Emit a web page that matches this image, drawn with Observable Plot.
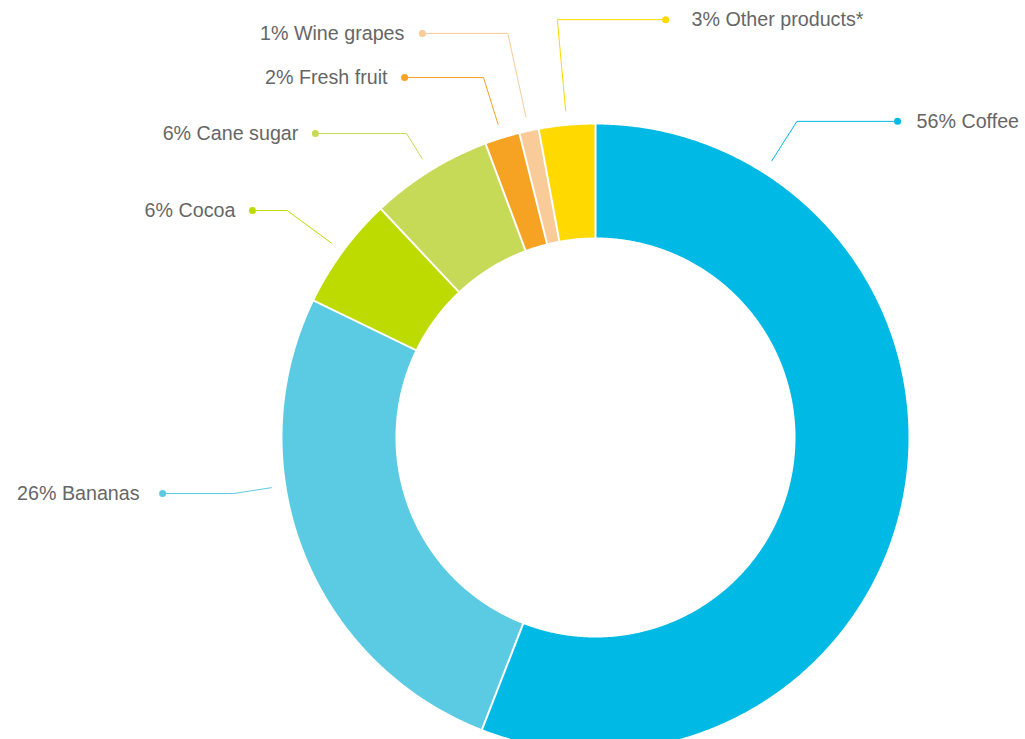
<!DOCTYPE html>
<html><head><meta charset="utf-8">
<script src="https://cdn.jsdelivr.net/npm/d3@7"></script>
<script src="https://cdn.jsdelivr.net/npm/@observablehq/plot@0.6"></script>
<style>body{margin:0;background:#fff}</style>
</head><body><div id="chart"></div>
<script>
// ---- data ----
const categories = ["Coffee", "Bananas", "Cocoa", "Cane sugar", "Fresh fruit", "Wine grapes", "Other products*"];
const shares = [55.9, 26.3, 5.8, 6.3, 1.8, 1.0, 2.9];
const labelPercents = [56, 26, 6, 6, 2, 1, 3];
const colors = ["#00B9E4", "#5BCBE3", "#BDDB00", "#C6DA57", "#F6A223", "#F9CB98", "#FFD900"];

// ---- layout (units of outer radius, y up, center at 0,0) ----
const R_OUT = 1, R_IN = 0.639, R_LEAD = 1.048;
// label placement: angle override (deg from top, clockwise; null = slice middle), label row y, dot x, text gap (px)
const labelAngle = [32.5, 261.2, null, null, null, null, null];
const labelRowY = [1.010, -0.179, 0.725, 0.971, 1.150, 1.291, 1.335];
const labelDotX = [0.965, -1.383, -1.096, -0.895, -0.610, -0.553, 0.224];
const labelGap = [19, 23, 17, 17, 17, 18, 26];

const W = 1025, H = 739, CX = 595, CY = 437, RPX = 313;

const arcs = d3.pie().sort(null).value(d => d).startAngle(0).endAngle(2 * Math.PI)(shares);
const pt = (a, r) => ({x: r * Math.sin(a), y: r * Math.cos(a)});

const slicePts = [];
arcs.forEach((a, i) => {
  const n = Math.max(4, Math.ceil((a.endAngle - a.startAngle) / 0.005));
  for (let k = 0; k <= n; k++) {
    const t = a.startAngle + (a.endAngle - a.startAngle) * k / n;
    slicePts.push({name: categories[i], ...pt(t, R_OUT)});
  }
  for (let k = n; k >= 0; k--) {
    const t = a.startAngle + (a.endAngle - a.startAngle) * k / n;
    slicePts.push({name: categories[i], ...pt(t, R_IN)});
  }
});

const separators = arcs.map(a => {
  const p1 = pt(a.startAngle, R_IN * 0.99), p2 = pt(a.startAngle, R_OUT * 1.01);
  return {x1: p1.x, y1: p1.y, x2: p2.x, y2: p2.y};
});

const labels = arcs.map((a, i) => {
  const ang = labelAngle[i] != null ? labelAngle[i] * Math.PI / 180 : (a.startAngle + a.endAngle) / 2;
  const start = pt(ang, R_LEAD);
  const rEl = labelRowY[i] / Math.cos(ang);
  const elbow = pt(ang, rEl);
  const right = labelDotX[i] > elbow.x;
  return {name: categories[i], text: `${labelPercents[i]}% ${categories[i]}`,
          start, elbow, dotX: labelDotX[i], rowY: labelRowY[i], right,
          textX: labelDotX[i] + (right ? 1 : -1) * labelGap[i] / RPX};
});
const leaderPts = labels.flatMap(l => [
  {name: l.name, x: l.start.x, y: l.start.y},
  {name: l.name, x: l.elbow.x, y: l.elbow.y},
  {name: l.name, x: l.dotX, y: l.rowY}
]);

const chart = Plot.plot({
  width: W, height: H,
  margin: 0,
  x: {domain: [-CX / RPX, (W - CX) / RPX], axis: null},
  y: {domain: [-(H - CY) / RPX, CY / RPX], axis: null},
  color: {domain: categories, range: colors},
  style: {fontFamily: "'Liberation Sans', Arial, Helvetica, sans-serif", background: "#fff"},
  marks: [
    Plot.line(slicePts, {x: "x", y: "y", z: "name", fill: "name", stroke: "none", curve: "linear-closed"}),
    Plot.link(separators, {x1: "x1", y1: "y1", x2: "x2", y2: "y2", stroke: "white", strokeWidth: 2}),
    Plot.line(leaderPts, {x: "x", y: "y", z: "name", stroke: "name", strokeWidth: 1}),
    Plot.dot(labels, {x: "dotX", y: "rowY", fill: "name", r: 3.5}),
    Plot.text(labels.filter(l => l.right), {x: "textX", y: "rowY", text: "text", textAnchor: "start", fontSize: 19.7, fill: "#666", lineAnchor: "middle"}),
    Plot.text(labels.filter(l => !l.right), {x: "textX", y: "rowY", text: "text", textAnchor: "end", fontSize: 19.7, fill: "#666", lineAnchor: "middle"})
  ]
});
document.getElementById("chart").appendChild(chart);
</script>
</body></html>
